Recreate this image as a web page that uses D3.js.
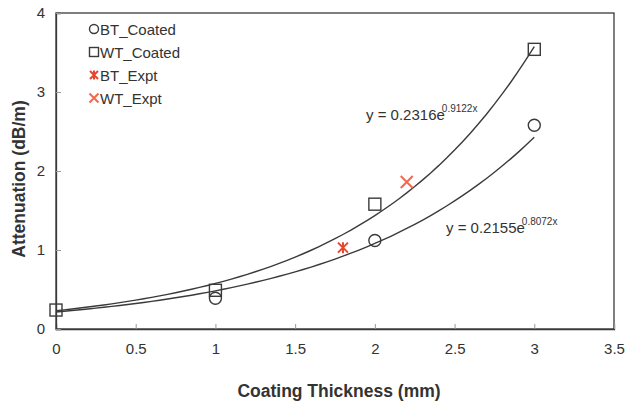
<!DOCTYPE html>
<html>
<head>
<meta charset="utf-8">
<script src="https://cdn.jsdelivr.net/npm/d3@7"></script>
<style>
  body { margin: 0; background: #fff; }
  text { font-family: "Liberation Sans", Arial, sans-serif; fill: #333; }
</style>
</head>
<body>
<div class="canvas"></div>
<script>
// data
const xTicks = [0, 0.5, 1, 1.5, 2, 2.5, 3, 3.5];
const yTicks = [0, 1, 2, 3, 4];

const btCoatedX = [1, 2, 3];
const btCoatedY = [0.39, 1.12, 2.58];
const wtCoatedX = [0, 1, 2, 3];
const wtCoatedY = [0.24, 0.49, 1.58, 3.54];
const btExptX = [1.8];
const btExptY = [1.03];
const wtExptX = [2.2];
const wtExptY = [1.86];

// exponential trend lines as printed on the chart: y = a * e^(b x)
const wtFit = [0.2316, 0.9122];
const btFit = [0.2155, 0.8072];

const width = 628, height = 405;
const margin = {top: 13, right: 14, bottom: 76, left: 56};

const svg = d3.select(".canvas")
              .append("svg")
              .attr("width", width)
              .attr("height", height);

const x = d3.scaleLinear()
            .domain([0, 3.5])
            .range([margin.left, width - margin.right]);

const y = d3.scaleLinear()
            .domain([0, 4])
            .range([height - margin.bottom, margin.top]);

const ink = "#3a3a3a";
const red1 = "#e8452f";
const red2 = "#f2694c";

// plot frame
svg.append("rect")
   .attr("x", x(0))
   .attr("y", y(4))
   .attr("width", x(3.5) - x(0))
   .attr("height", y(0) - y(4))
   .attr("fill", "none")
   .attr("stroke", ink)
   .attr("stroke-width", 1.3);

// axes, ticks point inward
const xAxis = svg.append("g")
   .attr("transform", `translate(0,${y(0)})`)
   .call(d3.axisBottom(x).tickValues(xTicks).tickSize(-5).tickPadding(14).tickFormat(d3.format("")));
const yAxis = svg.append("g")
   .attr("transform", `translate(${x(0)},0)`)
   .call(d3.axisLeft(y).tickValues(yTicks).tickSize(-5).tickPadding(11).tickFormat(d3.format("d")));

[xAxis, yAxis].forEach(a => {
  a.select(".domain").attr("stroke", ink).attr("stroke-width", 1.3);
  a.selectAll(".tick line").attr("stroke", "#999");
  a.selectAll(".tick text").attr("font-size", 15).attr("fill", "#333")
   .attr("font-family", "Liberation Sans, Arial, sans-serif");
});

// axis titles
svg.append("text")
   .attr("x", (x(0) + x(3.5)) / 2 + 4)
   .attr("y", 397)
   .attr("text-anchor", "middle")
   .attr("font-size", 17.5)
   .attr("font-weight", "bold")
   .text("Coating Thickness (mm)");

svg.append("text")
   .attr("transform", `translate(25,${(y(0) + y(4)) / 2 + 8}) rotate(-90)`)
   .attr("text-anchor", "middle")
   .attr("font-size", 17.5)
   .attr("font-weight", "bold")
   .text("Attenuation (dB/m)");

// trend lines
const fitPts = d3.range(0, 3.0001, 0.05);
const line = d3.line().x(d => x(d[0])).y(d => y(d[1]));
[wtFit, btFit].forEach(f => {
  svg.append("path")
     .attr("d", line(fitPts.map(t => [t, f[0] * Math.exp(f[1] * t)])))
     .attr("fill", "none")
     .attr("stroke", ink)
     .attr("stroke-width", 1.4);
});

// markers
function circle(g, cx, cy, r) {
  g.append("circle").attr("cx", cx).attr("cy", cy).attr("r", r)
   .attr("fill", "none").attr("stroke", ink).attr("stroke-width", 1.4);
}
function square(g, cx, cy, s) {
  g.append("rect").attr("x", cx - s / 2).attr("y", cy - s / 2)
   .attr("width", s).attr("height", s)
   .attr("fill", "none").attr("stroke", ink).attr("stroke-width", 1.4);
}
function cross(g, cx, cy, s, col, star) {
  const p = `M${cx - s},${cy - s}L${cx + s},${cy + s}M${cx - s},${cy + s}L${cx + s},${cy - s}` +
            (star ? `M${cx},${cy - s * 1.1}L${cx},${cy + s * 1.1}` : "");
  g.append("path").attr("d", p).attr("stroke", col).attr("stroke-width", 2).attr("fill", "none");
}

const marks = svg.append("g");
btCoatedX.forEach((d, i) => circle(marks, x(d), y(btCoatedY[i]), 6));
wtCoatedX.forEach((d, i) => square(marks, x(d), y(wtCoatedY[i]), 12));
btExptX.forEach((d, i) => cross(marks, x(d), y(btExptY[i]), 5, red1, true));
wtExptX.forEach((d, i) => cross(marks, x(d), y(wtExptY[i]), 6, red2, false));

// trend equations
function equation(tx, ty, a, b) {
  const t = svg.append("text").attr("x", tx).attr("y", ty).attr("font-size", 15);
  t.append("tspan").text(`y = ${a}e`);
  t.append("tspan").attr("font-size", 10).attr("dy", -8).attr("dx", -3).text(`${b}x`);
}
equation(366, 120, wtFit[0], wtFit[1]);
equation(446, 233, btFit[0], btFit[1]);

// legend
const legendNames = ["BT_Coated", "WT_Coated", "BT_Expt", "WT_Expt"];
const legend = svg.append("g");
legendNames.forEach((name, i) => {
  const ly = 29 + i * 23;
  const mx = 94;
  if (i === 0) circle(legend, mx, ly, 4.5);
  if (i === 1) square(legend, mx, ly, 9);
  if (i === 2) cross(legend, mx, ly, 4, red1, true);
  if (i === 3) cross(legend, mx, ly, 4.5, red2, false);
  legend.append("text")
        .attr("x", 100)
        .attr("y", ly + 5.5)
        .attr("font-size", 15)
        .text(name);
});
</script>
</body>
</html>
